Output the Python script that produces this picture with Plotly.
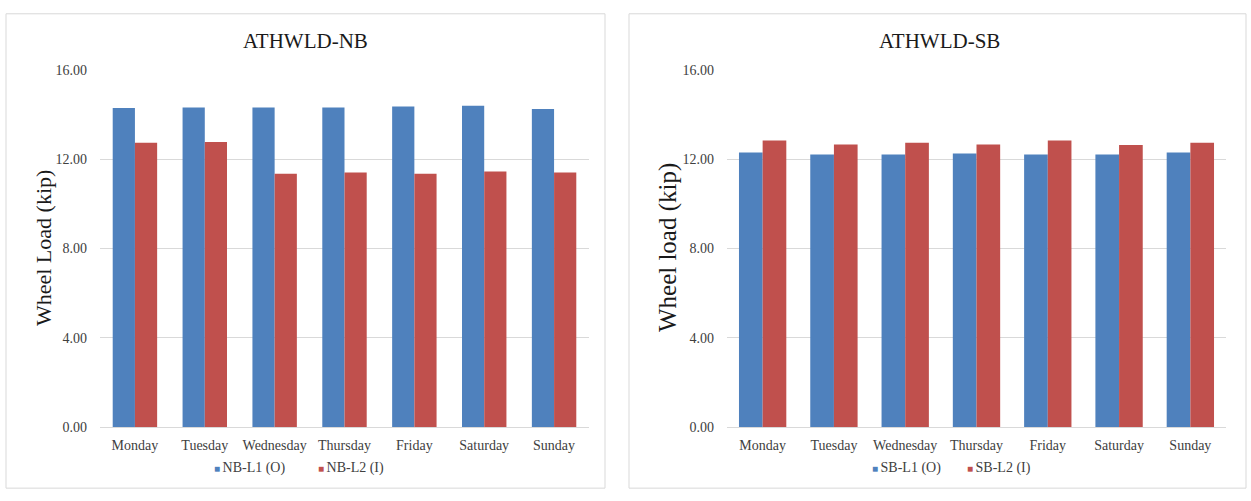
import plotly.graph_objects as go

# Days of the week on the category axis
days = ["Monday", "Tuesday", "Wednesday", "Thursday", "Friday", "Saturday", "Sunday"]

# Average wheel load (kip), northbound lanes
nb_l1 = [14.30, 14.32, 14.32, 14.32, 14.37, 14.40, 14.25]
nb_l2 = [12.74, 12.78, 11.35, 11.41, 11.35, 11.45, 11.41]

# Average wheel load (kip), southbound lanes
sb_l1 = [12.30, 12.22, 12.22, 12.26, 12.22, 12.22, 12.30]
sb_l2 = [12.84, 12.66, 12.74, 12.66, 12.84, 12.64, 12.74]

y_ticks = [0, 4, 8, 12, 16]

BLUE = "#4F81BD"
RED = "#C0504D"
GRID = "#D9D9D9"
TXT = "#404040"
SERIF = "Liberation Serif, Times New Roman, serif"
W, H = 1251, 501

fig = go.Figure()

panels = [
    dict(x="x", y="y", l1=nb_l1, l2=nb_l2, n1="NB-L1 (O)", n2="NB-L2 (I)", bw=0.318),
    dict(x="x2", y="y2", l1=sb_l1, l2=sb_l2, n1="SB-L1 (O)", n2="SB-L2 (I)", bw=0.332),
]

for p in panels:
    w = p["bw"]
    fig.add_trace(go.Bar(x=days, y=p["l1"], name=p["n1"], marker_color=BLUE,
                         marker_line_width=0, xaxis=p["x"], yaxis=p["y"],
                         width=w, offset=-w, showlegend=False))
    fig.add_trace(go.Bar(x=days, y=p["l2"], name=p["n2"], marker_color=RED,
                         marker_line_width=0, xaxis=p["x"], yaxis=p["y"],
                         width=w, offset=0, showlegend=False))


def px_x(v):
    return v / W


def px_y(v):
    return 1 - v / H


yb, yt = px_y(433), px_y(65)

axis_y = dict(range=[0, 16], tickvals=y_ticks, ticktext=[f"{v:.2f}" for v in y_ticks],
              showgrid=True, gridcolor=GRID, gridwidth=1, zeroline=False,
              showline=False, ticks="", ticklabelstandoff=12,
              tickfont=dict(family=SERIF, size=14, color=TXT),
              domain=[yb, yt], fixedrange=True)
axis_x = dict(showgrid=False, zeroline=False, showline=True, linecolor=GRID, linewidth=1,
              ticks="", ticklabelstandoff=5,
              tickfont=dict(family=SERIF, size=14, color=TXT), fixedrange=True)

fig.update_layout(
    width=W, height=H,
    margin=dict(l=0, r=0, t=0, b=0),
    paper_bgcolor="white", plot_bgcolor="white",
    barmode="overlay",
    xaxis=dict(axis_x, domain=[px_x(100), px_x(589)], anchor="y"),
    yaxis=dict(axis_y, anchor="x"),
    xaxis2=dict(axis_x, domain=[px_x(727), px_x(1226)], anchor="y2"),
    yaxis2=dict(axis_y, anchor="x2"),
    showlegend=False,
)

# Panel frames
for x0, x1 in ((6, 605), (629, 1246)):
    fig.add_shape(type="rect", xref="paper", yref="paper",
                  x0=px_x(x0), x1=px_x(x1), y0=px_y(496), y1=px_y(7),
                  line=dict(color=GRID, width=1), fillcolor="rgba(0,0,0,0)", layer="below")

# Chart titles and axis titles
for text, xc in (("ATHWLD-NB", 305.5), ("ATHWLD-SB", 940)):
    fig.add_annotation(text=text, x=px_x(xc), y=px_y(35), xref="paper", yref="paper",
                       showarrow=False, xanchor="center", yanchor="middle",
                       font=dict(family=SERIF, size=21, color="#1A1A1A"))
for text, xc, fs in (("Wheel Load (kip)", 43, 22), ("Wheel load (kip)", 668, 25)):
    fig.add_annotation(text=text, x=px_x(xc), y=px_y(248.5), xref="paper", yref="paper",
                       showarrow=False, xanchor="center", yanchor="middle", textangle=-90,
                       font=dict(family=SERIF, size=fs, color="#1A1A1A"))

# Legend keys: small coloured square followed by the series name
legend_items = [
    ("NB-L1 (O)", BLUE, 212), ("NB-L2 (I)", RED, 316),
    ("SB-L1 (O)", BLUE, 870), ("SB-L2 (I)", RED, 965),
]
for name, col, x0 in legend_items:
    fig.add_annotation(
        text=f"<span style='color:{col};font-size:10px'>■ </span>{name}",
        x=px_x(x0), y=px_y(475), xref="paper", yref="paper", showarrow=False,
        xanchor="left", yanchor="middle", font=dict(family=SERIF, size=14, color=TXT))

fig.write_html("out.html")
